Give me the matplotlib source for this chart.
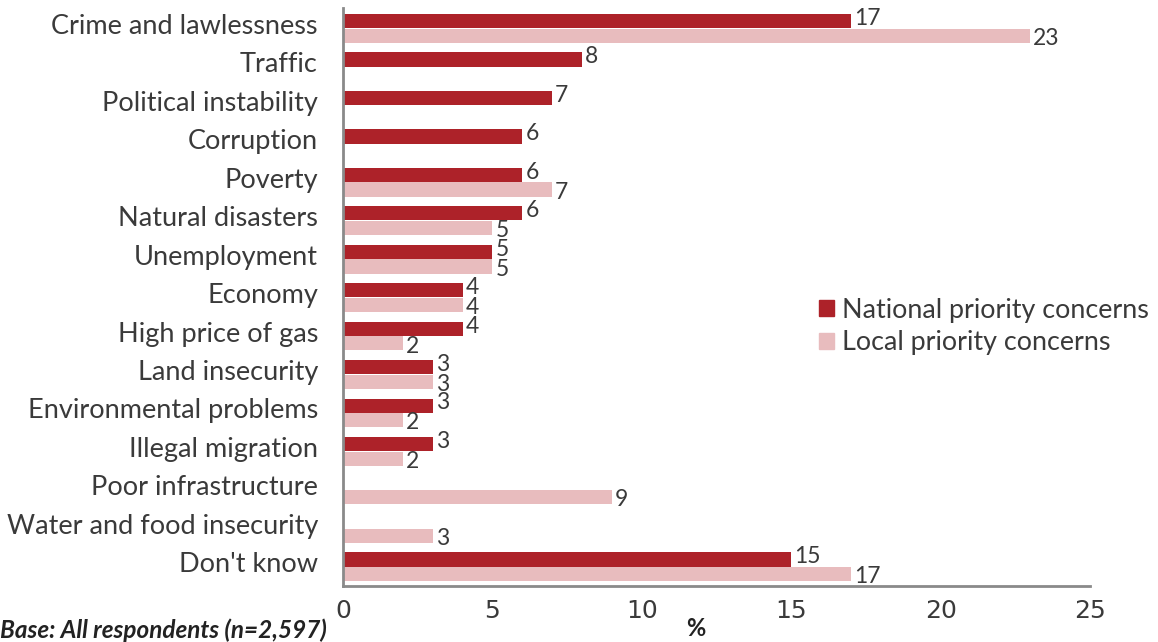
import matplotlib
matplotlib.use("Agg")
import matplotlib.pyplot as plt
import matplotlib.transforms as mtransforms
from matplotlib.patches import Patch
import numpy as np

categories = [
    "Crime and lawlessness", "Traffic", "Political instability", "Corruption",
    "Poverty", "Natural disasters", "Unemployment", "Economy",
    "High price of gas", "Land insecurity", "Environmental problems",
    "Illegal migration", "Poor infrastructure", "Water and food insecurity",
    "Don't know",
]
national = [17, 8, 7, 6, 6, 6, 5, 4, 4, 3, 3, 3, None, None, 15]
local = [23, None, None, None, 7, 5, 5, 4, 2, 3, 2, 2, 9, 3, 17]
xticks = [0, 5, 10, 15, 20, 25]

DARK = "#ad2229"
LIGHT = "#e8bcbe"
TEXT = "#3a3a3a"
plt.rcParams["font.family"] = ["Lato", "DejaVu Sans"]

fig = plt.figure(figsize=(11.58, 6.42), dpi=100)
ax = fig.add_axes([0.2962, 0.0872, 0.6451, 0.9003])

y = np.arange(len(categories))
h = 0.37
off = 0.19

for i in range(len(categories)):
    n = national[i]
    l = local[i]
    if n is not None:
        ax.barh(y[i] - off, n, height=h, color=DARK, edgecolor="none")
        ax.text(n + 0.1, y[i] - off - 0.07, str(n), va="center", ha="left",
                fontsize=16.5, color=TEXT)
    if l is not None:
        ax.barh(y[i] + off, l, height=h, color=LIGHT, edgecolor="none")
        ax.text(l + 0.1, y[i] + off + 0.07, str(l), va="center", ha="left",
                fontsize=16.5, color=TEXT)

ax.set_ylim(14.5, -0.53)
ax.set_xlim(0, 25)
ax.set_yticks(y)
ax.set_yticklabels(categories, fontsize=19.5, color=TEXT)
ax.set_xticks(xticks)
ax.set_xticklabels([str(t) for t in xticks], fontsize=18, color=TEXT,
                   family=["Liberation Sans Narrow", "DejaVu Sans"])
ax.tick_params(axis="both", length=0)
ax.tick_params(axis="x", pad=9)
ax.tick_params(axis="y", pad=18)
lift = mtransforms.ScaledTranslation(0, 4.5 / 100, fig.dpi_scale_trans)
for lbl in ax.get_yticklabels():
    lbl.set_transform(lbl.get_transform() + lift)
for s in ("top", "right"):
    ax.spines[s].set_visible(False)
for s in ("left", "bottom"):
    ax.spines[s].set_color("#8a8a8a")
    ax.spines[s].set_linewidth(2)

handles = [Patch(color=DARK, label="National priority concerns"),
           Patch(color=LIGHT, label="Local priority concerns")]
fig.legend(handles=handles, loc="upper left", bbox_to_anchor=(0.707, 0.536),
           frameon=False, fontsize=19.4, handlelength=0.55, handleheight=0.55,
           handletextpad=0.3, labelspacing=0.27, labelcolor=TEXT,
           borderaxespad=0, borderpad=0)

fig.text(0.601, 0.003, "%", fontsize=17, fontweight="bold", color="#222222",
         ha="center", va="bottom")
fig.text(0.0, 0.0, "Base: All respondents (n=2,597)", fontsize=17.5,
         fontweight="bold", fontstyle="italic", color="#222222",
         ha="left", va="bottom")

fig.savefig("out.png", dpi=100)
